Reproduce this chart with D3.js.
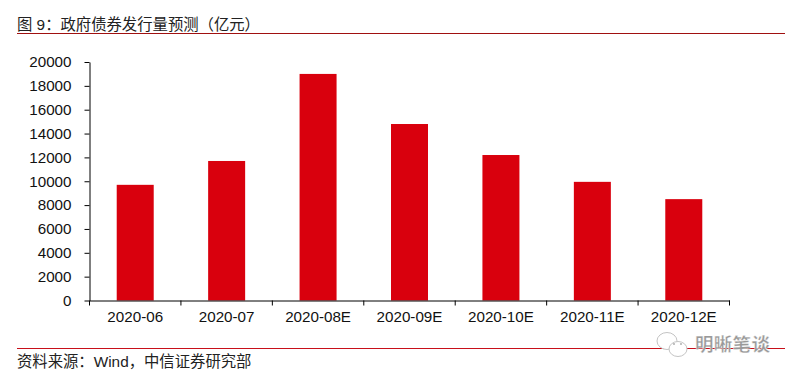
<!DOCTYPE html>
<html>
<head>
<meta charset="utf-8">
<script src="https://cdn.jsdelivr.net/npm/d3@7"></script>
<style>
  html, body { margin: 0; padding: 0; background: #fff; }
  svg { display: block; }
  text { font-family: "Liberation Sans", "Noto Sans CJK SC", sans-serif; }
</style>
</head>
<body>
<svg id="chart" width="795" height="379"></svg>
<script>
const categories = ['2020-06', '2020-07', '2020-08E', '2020-09E', '2020-10E', '2020-11E', '2020-12E'];
const issuance = [9700, 11700, 19000, 14800, 12200, 9950, 8500];
const yTicks = [0, 2000, 4000, 6000, 8000, 10000, 12000, 14000, 16000, 18000, 20000];
const titleText = '图 9：政府债券发行量预测（亿元）';
const sourceText = '资料来源：Wind，中信证券研究部';
const watermarkText = '明晰笔谈';

const svg = d3.select('#chart');

const x = d3.scaleBand().domain(categories).range([89.5, 729.5]);
const y = d3.scaleLinear().domain([0, 20000]).range([300.5, 62]);

// title and rules
svg.append('text').attr('x', 17).attr('y', 30)
  .attr('font-size', 15.35).attr('fill', '#222').text(titleText);
svg.append('line').attr('x1', 17).attr('x2', 785).attr('y1', 33.5).attr('y2', 33.5)
  .attr('stroke', '#a01010').attr('stroke-width', 1);
svg.append('line').attr('x1', 17).attr('x2', 785).attr('y1', 348.5).attr('y2', 348.5)
  .attr('stroke', '#c8101a').attr('stroke-width', 1);
svg.append('text').attr('x', 17).attr('y', 367)
  .attr('font-size', 15.35).attr('fill', '#222').text(sourceText);

// bars
svg.selectAll('.bar')
  .data(issuance)
  .enter()
  .append('rect')
  .attr('class', 'bar')
  .attr('x', (d, i) => x(categories[i]) + x.bandwidth() / 2 - 18.5)
  .attr('y', d => y(d))
  .attr('width', 37)
  .attr('height', d => y(0) - y(d))
  .attr('fill', '#d9000d');

// axes
const yAxis = svg.append('g')
  .attr('transform', 'translate(89.5,0)')
  .call(d3.axisLeft(y).tickValues(yTicks).tickFormat(d3.format('d')).tickSize(5).tickPadding(13).tickSizeOuter(0));
const xAxis = svg.append('g')
  .attr('transform', 'translate(0,300.5)')
  .call(d3.axisBottom(x).tickSize(0).tickPadding(11));

// band edge ticks, the bottom axis sits between categories
const edges = categories.map(c => x(c)).concat([x.range()[1]]);
xAxis.selectAll('.edge')
  .data(edges)
  .enter()
  .append('line')
  .attr('class', 'edge')
  .attr('x1', d => d).attr('x2', d => d)
  .attr('y1', 0).attr('y2', 5)
  .attr('stroke', '#000');

[yAxis, xAxis].forEach(a => {
  a.selectAll('text').attr('font-size', 15.2).attr('fill', '#111')
    .style('font-family', '"Liberation Sans", sans-serif');
  a.selectAll('path, line').attr('stroke', '#000');
});

// watermark
const mark = svg.append('g').attr('fill', 'none').attr('stroke', '#c4c4c4').attr('stroke-width', 1);
mark.append('ellipse').attr('cx', 667).attr('cy', 341).attr('rx', 10).attr('ry', 8.5).attr('fill', '#fff');
mark.append('ellipse').attr('cx', 678).attr('cy', 349).attr('rx', 9).attr('ry', 7.5).attr('fill', '#fff');
mark.selectAll('circle')
  .data([[674, 344], [681, 344]])
  .enter()
  .append('circle')
  .attr('cx', d => d[0]).attr('cy', d => d[1]).attr('r', 0.8)
  .attr('fill', '#777').attr('stroke', 'none');
svg.append('text').attr('x', 695).attr('y', 351)
  .attr('font-size', 18.5).attr('font-weight', 'bold').attr('fill', '#999').attr('stroke', '#fff').attr('stroke-width', 0.3)
  .attr('letter-spacing', 0.3).text(watermarkText);
</script>
</body>
</html>
